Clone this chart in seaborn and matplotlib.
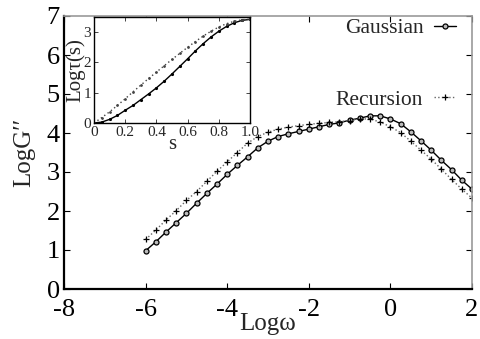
import numpy as np
import pandas as pd
import matplotlib
matplotlib.use("Agg")
import matplotlib.pyplot as plt
import seaborn as sns

# ---- data ----
log_omega = [-6.0, -5.75, -5.5, -5.25, -5.0, -4.75, -4.5, -4.25, -4.0, -3.75, -3.5,
             -3.25, -3.0, -2.75, -2.5, -2.25, -2.0, -1.75, -1.5, -1.25, -1.0, -0.75,
             -0.5, -0.25, 0.0, 0.25, 0.5, 0.75, 1.0, 1.25, 1.5, 1.75, 2.0]
gaussian = [0.98, 1.21, 1.46, 1.70, 1.94, 2.20, 2.45, 2.69, 2.94, 3.17, 3.39,
            3.62, 3.79, 3.91, 3.98, 4.04, 4.10, 4.16, 4.22, 4.26, 4.33, 4.38,
            4.44, 4.44, 4.36, 4.24, 4.03, 3.80, 3.56, 3.30, 3.06, 2.79, 2.56]
recursion = [1.27, 1.51, 1.77, 2.01, 2.27, 2.50, 2.76, 3.02, 3.26, 3.50, 3.74,
             3.91, 4.02, 4.10, 4.15, 4.19, 4.22, 4.25, 4.27, 4.29, 4.32, 4.36,
             4.36, 4.28, 4.16, 4.01, 3.79, 3.56, 3.33, 3.07, 2.81, 2.56, 2.33]

s_vals = [0.0, 0.05, 0.1, 0.15, 0.2, 0.25, 0.3, 0.35, 0.4, 0.45, 0.5,
          0.55, 0.6, 0.65, 0.7, 0.75, 0.8, 0.85, 0.9, 0.95, 1.0]
tau_gauss = [0.0, 0.03, 0.12, 0.25, 0.42, 0.58, 0.77, 0.96, 1.16, 1.38, 1.62,
             1.87, 2.12, 2.38, 2.62, 2.84, 3.03, 3.19, 3.31, 3.39, 3.42]
tau_recur = [0.0, 0.18, 0.37, 0.58, 0.80, 1.03, 1.25, 1.47, 1.68, 1.89, 2.10,
             2.30, 2.50, 2.69, 2.87, 3.03, 3.17, 3.28, 3.36, 3.41, 3.43]

x_ticks = [-8, -6, -4, -2, 0, 2]
y_ticks = [0, 1, 2, 3, 4, 5, 6, 7]
inset_xticks = [0, 0.2, 0.4, 0.6, 0.8, 1.0]
inset_xticklabels = ["0", "0.2", "0.4", "0.6", "0.8", "1.0"]
inset_yticks = [0, 1, 2, 3]

sns.set_style("ticks")
plt.rcParams['font.family'] = ['Liberation Serif', 'DejaVu Serif']
plt.rcParams['axes.unicode_minus'] = False

fig = plt.figure(figsize=(4.81, 3.39), dpi=100)
ax = fig.add_axes([64/481, 50/339, 408/481, 273/339])

sns.lineplot(x=log_omega, y=gaussian, ax=ax, color='black', linestyle='-', lw=1.0,
             marker='o', markersize=3.6, markerfacecolor='#bbbbbb',
             markeredgecolor='black', markeredgewidth=0.9, label='Gaussian')
sns.lineplot(x=log_omega, y=recursion, ax=ax, color='#666666', linestyle=':', lw=1.0,
             marker='+', markersize=4.5, markeredgecolor='black',
             markeredgewidth=0.9, label='Recursion')

ax.set_xlim(-8, 2)
ax.set_ylim(0, 7)
ax.set_xticks(x_ticks)
ax.set_yticks(y_ticks)
ax.tick_params(direction='in', top=True, right=True, length=4, width=0.8,
               labelsize=19, colors='black', pad=3)
ax.tick_params(axis='x', pad=7.5)
for side in ['left', 'bottom']:
    ax.spines[side].set_linewidth(1.6)
    ax.spines[side].set_color('black')
for side in ['top', 'right']:
    ax.spines[side].set_linewidth(1.2)
    ax.spines[side].set_color('#999999')
ax.set_xlabel('Logω', fontsize=18, labelpad=-6)
ax.set_ylabel('LogG′′', fontsize=18, labelpad=8)

leg = ax.legend(loc='upper right', bbox_to_anchor=(0.965, 1.0), markerfirst=False,
                frameon=False, fontsize=15.5, labelspacing=2.4, handlelength=1.0,
                handletextpad=0.5, borderaxespad=0.0, borderpad=0.1, numpoints=1)

# inset
axin = fig.add_axes([94/481, 216/339, 156/481, 106/339])
sns.lineplot(x=s_vals, y=tau_gauss, ax=axin, color='black', linestyle='-', lw=1.0,
             marker='o', markersize=1.5, markeredgecolor='black')
sns.lineplot(x=s_vals, y=tau_recur, ax=axin, color='#444444', linestyle=(0, (1, 2)),
             lw=1.0, marker='o', markersize=1.2, markeredgecolor='#444444')
axin.set_xlim(0, 1)
axin.set_ylim(0, 3.5)
axin.set_xticks(inset_xticks)
axin.set_xticklabels(inset_xticklabels)
axin.set_yticks(inset_yticks)
axin.tick_params(direction='in', top=True, right=True, length=3, width=0.6,
                 labelsize=11, pad=2)
for side in ['left', 'bottom', 'top', 'right']:
    axin.spines[side].set_linewidth(1.0)
    axin.spines[side].set_color('black')
axin.set_xlabel('s', fontsize=15, labelpad=-3)
axin.set_ylabel('Logτ(s)', fontsize=15, labelpad=-1)

fig.savefig('out.png', dpi=100)
